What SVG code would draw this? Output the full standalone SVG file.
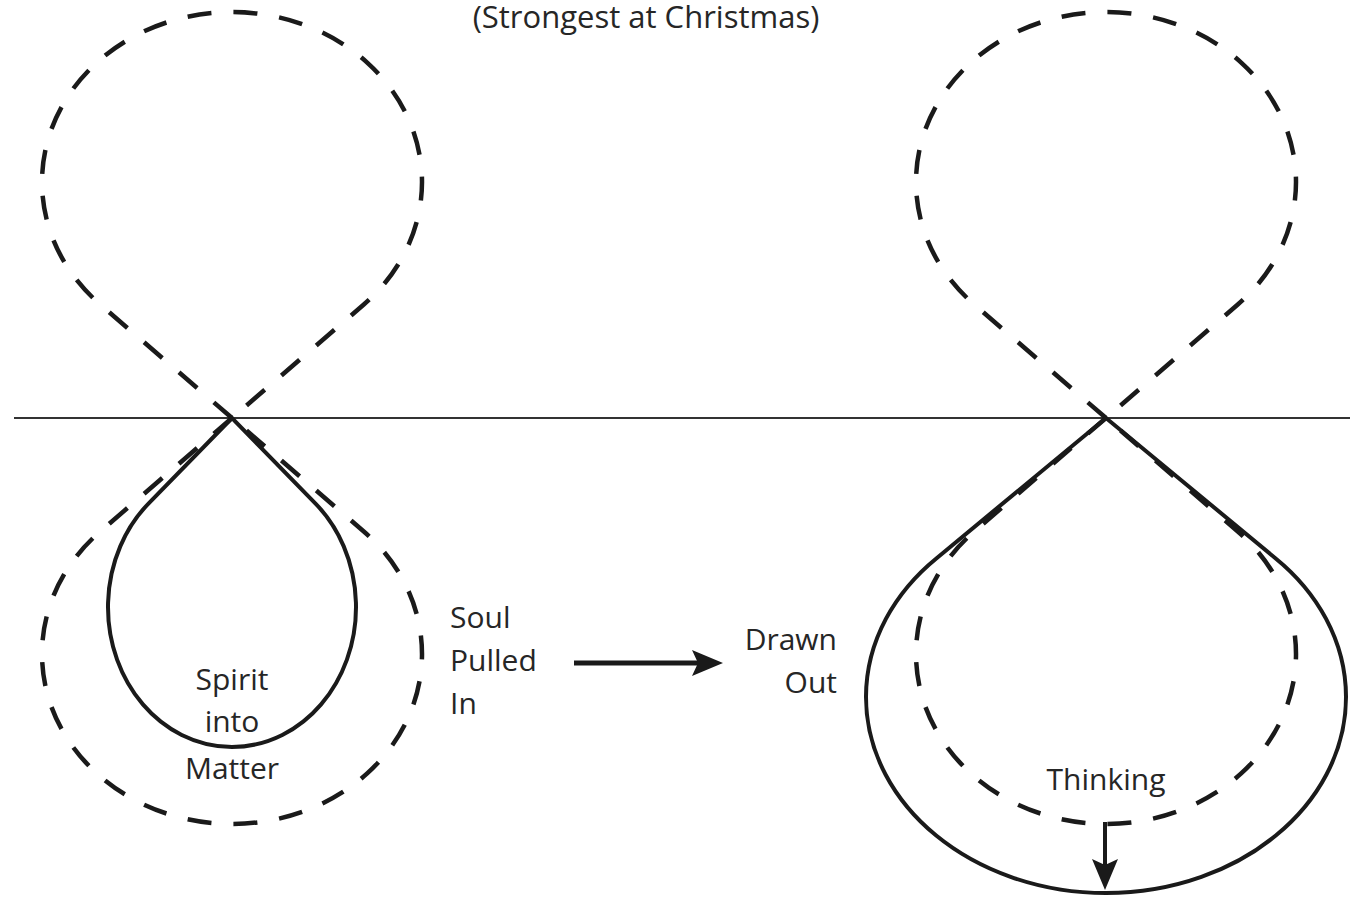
<svg xmlns="http://www.w3.org/2000/svg" width="1350" height="899" viewBox="0 0 1350 899">
  <style>
    .dash { fill: none; stroke: #1a1a1a; stroke-width: 4.5; stroke-dasharray: 24 22; }
    .solid { fill: none; stroke: #1a1a1a; stroke-width: 4; stroke-linejoin: miter; }
    .lbl { font-family: "Open Sans", "Liberation Sans", sans-serif; font-size: 30px; fill: #262626; }
    .arrow { stroke: #1a1a1a; fill: none; }
    .head { fill: #1a1a1a; }
  </style>
  <defs>
    <path id="ah" d="M-31,-13 L0,0 L-31,13 L-25,0 Z"/>
  </defs>
  <rect width="1350" height="899" fill="#ffffff"/>

  <g id="title">
    <text class="lbl" x="646" y="28" text-anchor="middle" style="font-size:31px">(Strongest at Christmas)</text>
  </g>

  <g id="horizon">
    <line x1="14" y1="418" x2="1350" y2="418" stroke="#333333" stroke-width="2"/>
  </g>

  <g id="left-upper-dashed">
    <path class="dash" d="M232,418 L100.2,304.5 A190,170 0 1 1 363.8,304.5 Z"/>
  </g>
  <g id="left-lower-dashed">
    <path class="dash" d="M232,418 L100.2,531.5 A190,170 0 1 0 363.8,531.5 Z"/>
  </g>
  <g id="left-solid">
    <path class="solid" d="M232,418 L148.7,503.3 A124,140 0 1 0 315.3,503.3 Z"/>
    <text class="lbl" x="232" y="690" text-anchor="middle">Spirit</text>
    <text class="lbl" x="232" y="732" text-anchor="middle">into</text>
    <text class="lbl" x="232" y="779" text-anchor="middle">Matter</text>
  </g>

  <g id="soul-label">
    <text class="lbl" x="450" y="628">Soul</text>
    <text class="lbl" x="450" y="671">Pulled</text>
    <text class="lbl" x="450" y="714">In</text>
  </g>

  <g id="drawn-label">
    <text class="lbl" x="837" y="650" text-anchor="end">Drawn</text>
    <text class="lbl" x="837" y="693" text-anchor="end">Out</text>
  </g>

  <g id="right-upper-dashed">
    <path class="dash" d="M1106,418 L974.2,304.5 A190,170 0 1 1 1237.8,304.5 Z"/>
  </g>
  <g id="right-lower-dashed">
    <path class="dash" d="M1106,418 L974.2,531.5 A190,170 0 1 0 1237.8,531.5 Z"/>
  </g>
  <g id="right-solid">
    <path class="solid" d="M1106,418 L936.6,558.2 A240,196 0 1 0 1275.4,558.2 Z"/>
    <text class="lbl" x="1106" y="790" text-anchor="middle">Thinking</text>
  </g>

  <g id="connectors">
    <line class="arrow" x1="574" y1="663" x2="700" y2="663" stroke-width="5"/>
    <use href="#ah" class="head" transform="translate(723,663)"/>
    <line class="arrow" x1="1105" y1="822" x2="1105" y2="866" stroke-width="4"/>
    <use href="#ah" class="head" transform="translate(1105,890) rotate(90)"/>
  </g>
</svg>
